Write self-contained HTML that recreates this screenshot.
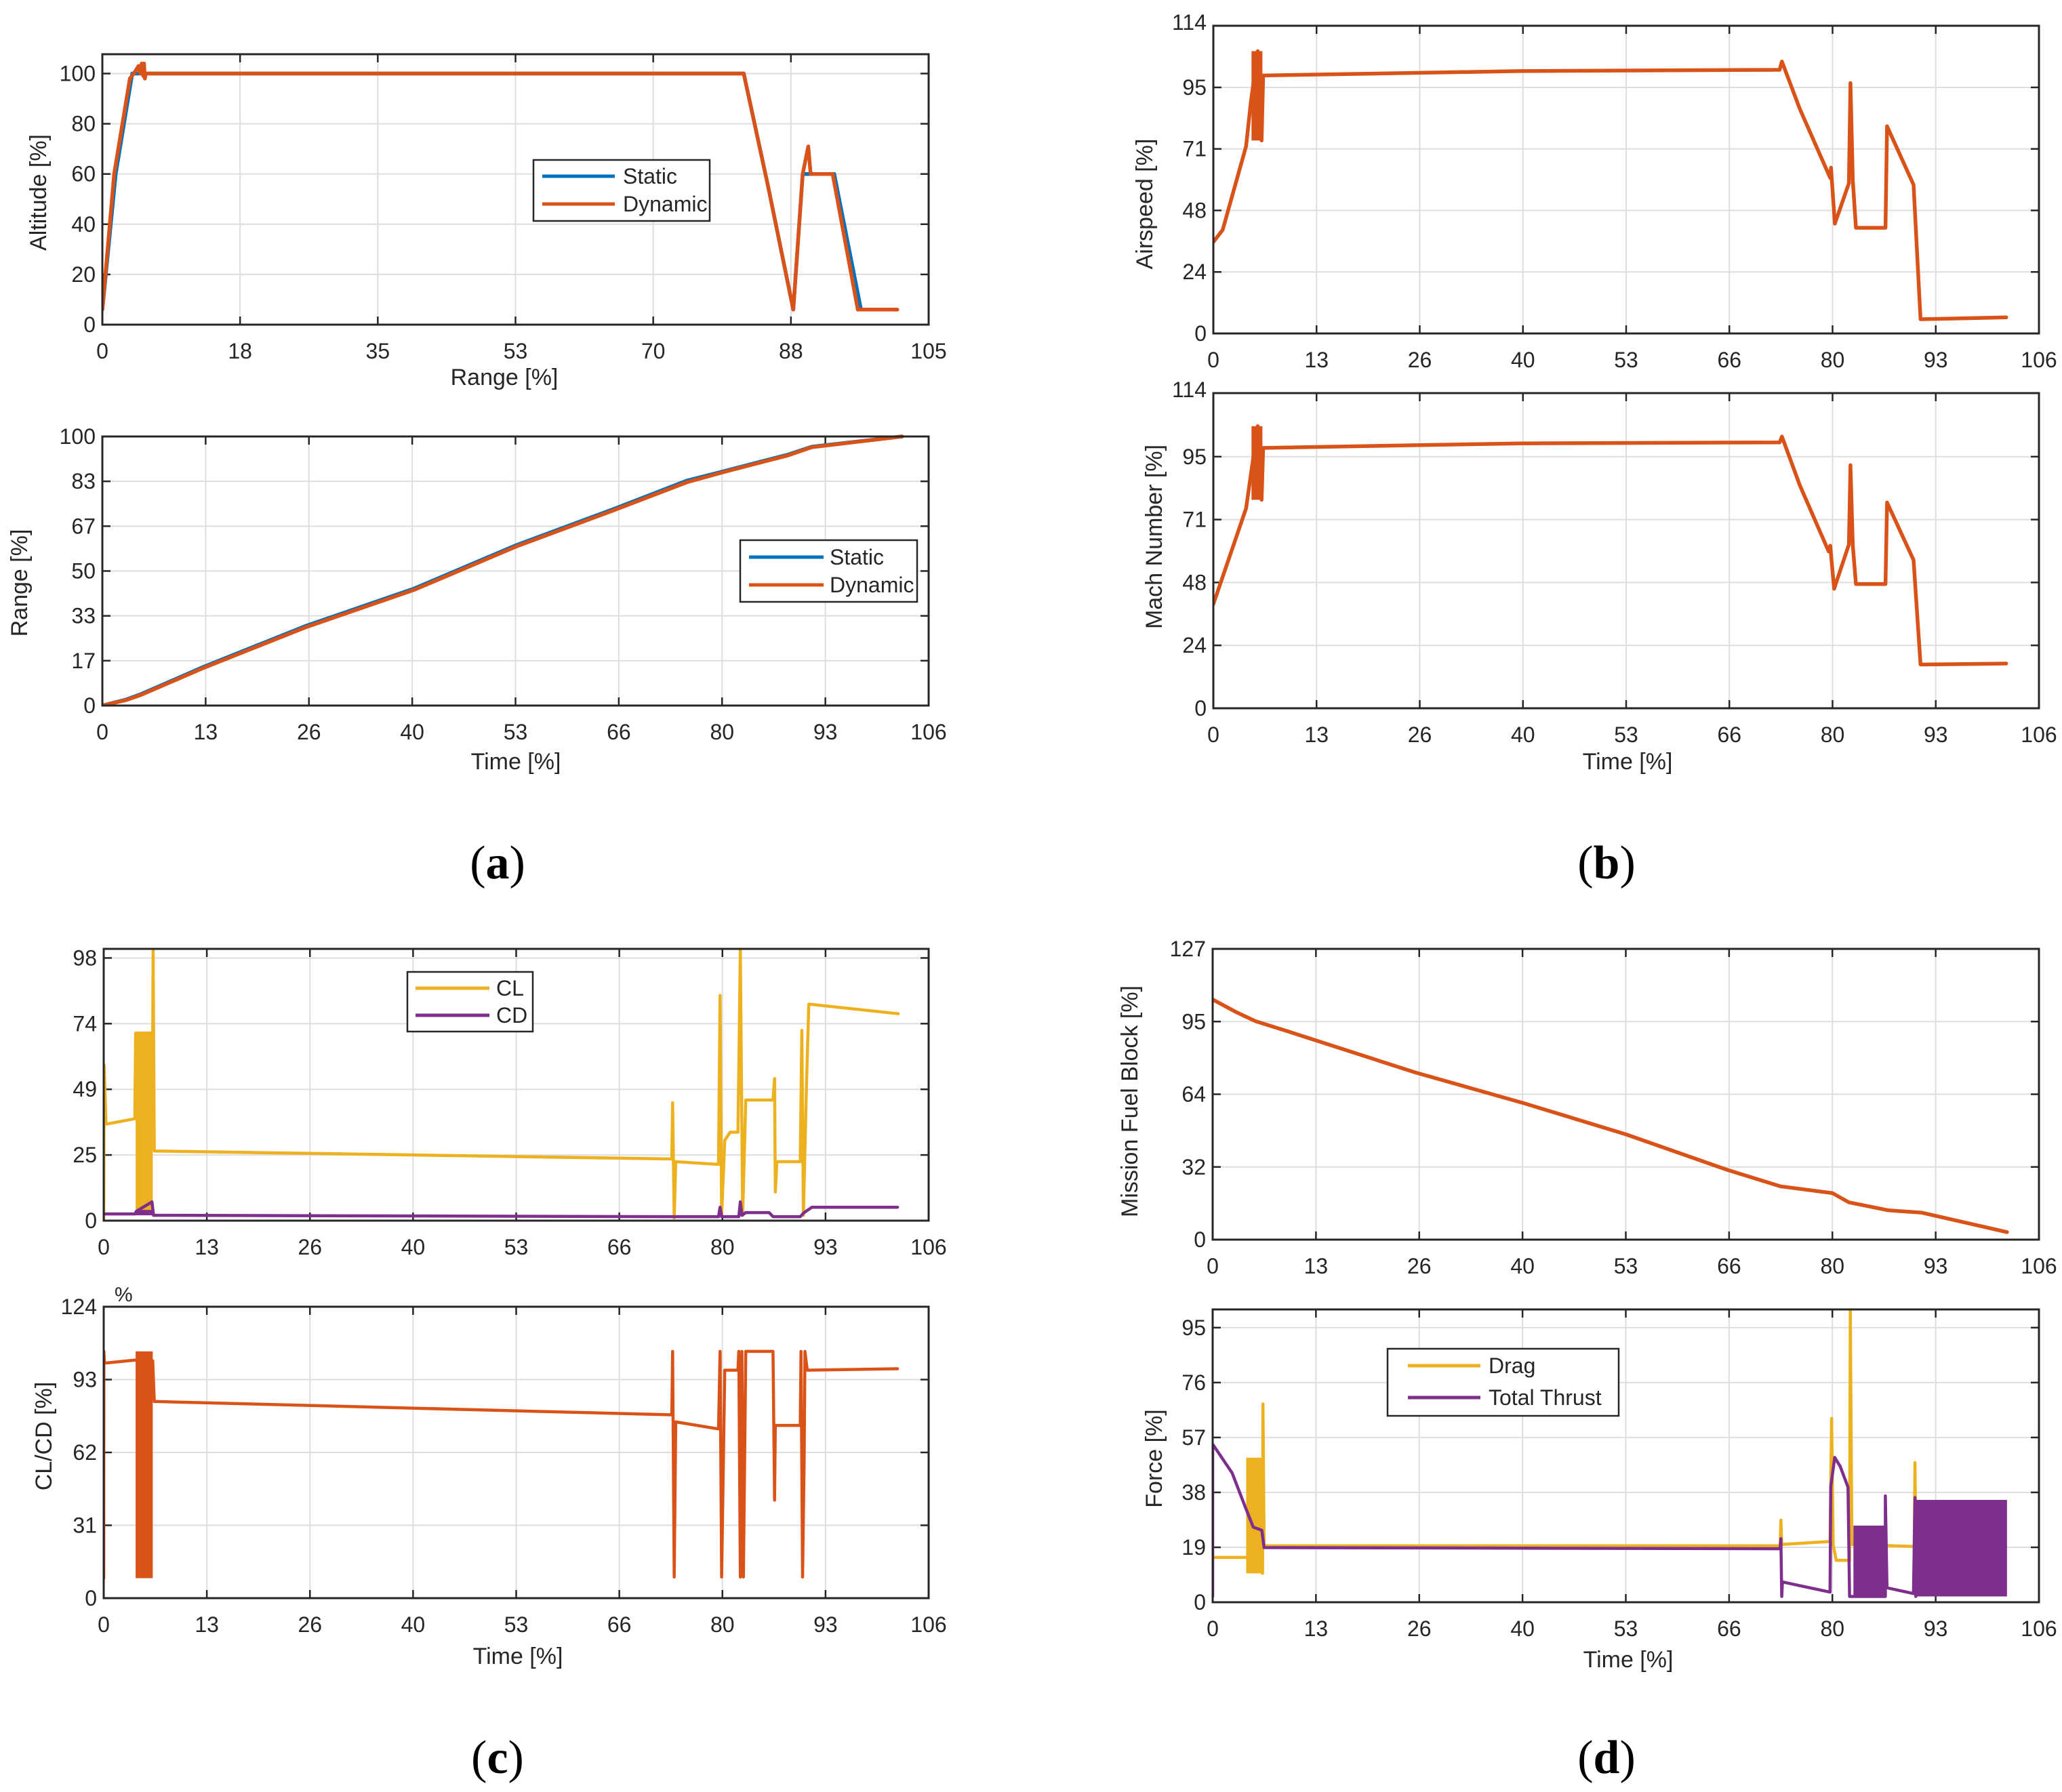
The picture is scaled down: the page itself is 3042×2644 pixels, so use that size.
<!DOCTYPE html>
<html><head><meta charset="utf-8"><style>
html,body{margin:0;padding:0;background:#fff}
svg{display:block}
text{font-family:"Liberation Sans",Arial,sans-serif;fill:#262626}
.cap{font-family:"Liberation Serif",serif;font-size:70px;fill:#000}
</style></head><body>
<svg id="fig" width="3042" height="2644" viewBox="0 0 3042 2644" xmlns="http://www.w3.org/2000/svg">
<rect width="3042" height="2644" fill="#fff"/>
<text class="cap" x="734" y="1296" text-anchor="middle">(<tspan font-weight="bold">a</tspan>)</text>
<text class="cap" x="2370" y="1296" text-anchor="middle">(<tspan font-weight="bold">b</tspan>)</text>
<text class="cap" x="734" y="2616" text-anchor="middle">(<tspan font-weight="bold">c</tspan>)</text>
<text class="cap" x="2370" y="2616" text-anchor="middle">(<tspan font-weight="bold">d</tspan>)</text>
</svg>
<script>
// ---- tick labels ----
const xTicksRange = ["0","18","35","53","70","88","105"];
const xTicksTime = ["0","13","26","40","53","66","80","93","106"];
const yTicksAlt = ["0","20","40","60","80","100"];
const yTicksRangeAx = ["0","17","33","50","67","83","100"];
const yTicksSpeed = ["0","24","48","71","95"];
const yTicksCL = ["0","25","49","74","98"];
const yTicksLD = ["0","31","62","93","124"];
const yTicksFuel = ["0","32","64","95","127"];
const yTicksForce = ["0","19","38","57","76","95"];

// ---- data (x in %, y in %) ----
const altStaticX = [0,1.7,3.8,4.5,81.5,84.6,87.8,89,93.0,96.4,101];
const altStaticY = [6,60,100,100,100,55,6,60,60,6,6];
const altDynX = [0,1.5,3.5,4.0,4.6,4.8,5.0,5.2,5.3,5.4,5.5,81.5,84.6,87.8,89,89.7,90,92.8,96.0,101];
const altDynY = [6,60,98,100,103,100,104,99,104,98,100,100,55,6,60,71,60,60,6,6];

const rngStaticX = [0,3,5,13,26,40,53,66,75,80,88,91,102.6];
const rngStaticY = [0,2.2,4.3,14.4,29.5,43.5,59.5,73.5,83.6,87.3,93.3,96.2,100];
const rngDynX = [0,3,5,13,26,40,53,66,75,80,88,91,102.6];
const rngDynY = [0,2,4,14,29,43,59,73,83,87,93,96,100];

const airX = [0,1.2,4.2,4.8,5.7,6.2,6.4,39.3,72.7,73,75.3,79.2,79.3,79.8,81.6,81.8,82.1,82.5,86.3,86.5,89.9,90.8,101.8];
const airY = [35.3,40,72.3,89,109,74.5,99.6,101.3,101.8,105,86.7,60,64,42.4,58,96.7,59,40.8,40.8,80,57.4,5.5,6.2];
const airOsc = [4.9,6.3,74.5,109];

const machX = [0,4.2,5.7,6.2,6.4,39.3,72.7,73,75.3,79,79.2,79.7,81.6,81.8,82.1,82.5,86.3,86.5,89.9,90.8,101.8];
const machY = [39.3,75.5,106.5,78.7,98.3,100,100.4,102.6,84.2,59.2,61.4,45.1,61.8,91.8,61.4,46.9,46.9,77.7,56,16.5,16.9];
const machOsc = [4.9,6.3,78.7,106.5];

const clX = [0,0.05,0.3,4.0,4.1,6.3,6.35,6.5,73,73.1,73.3,73.5,79,79.2,79.4,79.8,80.5,81.5,81.8,82.1,82.5,86,86.2,86.3,86.5,89.5,89.7,89.9,90.3,90.6,102.1];
const clY = [0,58,36,38,70,70,101,26,23,44,1,22,21,84,2,30,33,33,101,2,45,45,53,10.7,22,22,71,2,50,80.8,77.2];
const clOsc = [4.1,6.3,2,70];
const cdX = [0,4,4.2,6.2,6.4,73,79,79.2,79.4,81.6,81.8,82,82.5,85.5,86,89.5,90,91,102];
const cdY = [2.5,2.5,3.5,7,2,1.5,1.5,5,1.5,1.5,7,2,3,3,1.5,1.5,3,5,5];
const cdOsc = [4.1,6.3,2,4];

const ldX = [0,0.02,0.1,4,6.3,6.5,73,73.1,73.3,73.5,79,79.2,79.4,79.8,81.5,81.6,81.8,82.0,82.2,82.5,86,86.2,86.3,89.5,89.6,89.8,90,90.1,90.4,102];
const ldY = [8.5,105,100,101.3,101,83.7,78,105,9,75,72,105,9,97,97,105,9,105,9,105,105,41.7,73.5,73.5,105,9,58,105,97,97.6];
const ldOsc = [4.1,6.3,8.5,105];

const fuelX = [0,3,5.5,9.7,26,40,53,66,72.8,79.5,81.6,86.7,90.9,101.9];
const fuelY = [104.9,99.4,95.4,90.9,73,59.5,46,30.5,23.3,20.3,16.3,12.8,11.8,3.3];

const dragX = [0,4.3,6.4,6.45,6.6,72.8,72.9,73,79.2,79.4,79.6,80,81.7,81.8,82,90,90.1,90.2];
const dragY = [15.5,15.5,10,68.6,19.5,19.5,28.4,20,21,63.6,20,14.5,14.5,101,20,19.3,48.3,19];
const dragOsc = [4.3,6.4,10,50];
const thrustX = [0,0,2.5,4.2,5.2,6.3,6.6,72.8,72.9,73,73.1,79.2,79.3,79.8,80.5,81.5,81.7,82.0,82.2,86.3,86.3,86.5,89.9,90.1,90.2];
const thrustY = [2,54.7,44.7,32.8,26,24.9,18.9,18.5,22,2,7,3.5,40,50.1,47,39.8,2,2,2,2,36.8,5,3,36.2,2];
const thrustOsc1 = [82.2,86.3,2,26.5];
const thrustOsc2 = [90.2,101.9,2,35.4];

const BLUE="#0072BD", ORANGE="#D95319", YELLOW="#EDB120", PURPLE="#7E2F8E";
const svg=document.getElementById('fig');
const NS="http://www.w3.org/2000/svg";
function mk(tag,at,parent){const e=document.createElementNS(NS,tag);for(const k in at)e.setAttribute(k,at[k]);(parent||svg).appendChild(e);return e;}

function panel(p){
  const g=mk('g',{});
  
  
  const sx=v=>p.x0+(v/p.xmax)*(p.x1-p.x0);
  const sy=v=>p.y1-(v/p.ymax)*(p.y1-p.y0);
  const nx=p.xl.length-1;
  p.xl.forEach((lab,i)=>{
    const v=i*p.xmax/nx, X=sx(v);
    if(i>0&&i<nx){const gl=mk('line',{x1:X,x2:X,y1:p.y0,y2:p.y1,stroke:'#dedede','stroke-width':2},g);
      
      mk('line',{x1:X,x2:X,y1:p.y1,y2:p.y1-12,stroke:'#262626','stroke-width':2.5},g);
      mk('line',{x1:X,x2:X,y1:p.y0,y2:p.y0+12,stroke:'#262626','stroke-width':2.5},g);}
    const t=mk('text',{x:X,y:p.y1+50,'font-size':32,'text-anchor':'middle'},g);t.textContent=lab;
    
  });
  const ystep=p.ystep;
  p.yl.forEach((lab,i)=>{
    const v=i*ystep, Y=sy(v);
    if(i>0&&Y>p.y0+2){const gl=mk('line',{x1:p.x0,x2:p.x1,y1:Y,y2:Y,stroke:'#dedede','stroke-width':2},g);
      
      mk('line',{x1:p.x0,x2:p.x0+12,y1:Y,y2:Y,stroke:'#262626','stroke-width':2.5},g);
      mk('line',{x1:p.x1,x2:p.x1-12,y1:Y,y2:Y,stroke:'#262626','stroke-width':2.5},g);}
    const t=mk('text',{x:p.x0-10,y:Math.min(Y+11,p.y1+20),'font-size':32,'text-anchor':'end'},g);t.textContent=lab;
    
  });
  if(p.ytop){const t=mk('text',{x:p.x0-10,y:p.y0+6,'font-size':32,'text-anchor':'end'},g);t.textContent=p.ytop;
    }
  const clip='c'+p.name;
  const cp=mk('clipPath',{id:clip},g);mk('rect',{x:p.x0,y:p.y0-3,width:p.x1-p.x0,height:p.y1-p.y0+3},cp);
  const sg=mk('g',{'clip-path':'url(#'+clip+')'},g);
  p.series.forEach(s=>{
    (s.bands||[]).forEach(b=>{
      const r=mk('rect',{x:sx(b[0]),y:sy(b[3]),width:sx(b[1])-sx(b[0]),height:sy(b[2])-sy(b[3]),fill:s.color},sg);
      
    });
    const d=s.x.map((v,i)=>(i?'L':'M')+sx(v).toFixed(1)+','+sy(s.y[i]).toFixed(1)).join('');
    const pa=mk('path',{d:d,fill:'none',stroke:s.color,'stroke-width':s.w||5.5,'stroke-linejoin':'round','stroke-linecap':'round'},sg);
    
  });
  const bx=mk('rect',{x:p.x0,y:p.y0,width:p.x1-p.x0,height:p.y1-p.y0,fill:'none',stroke:'#262626','stroke-width':3},g);
  
  if(p.xlabel){const t=mk('text',{x:p.xlabel[1],y:p.xlabel[2],'font-size':34,'text-anchor':'middle'},g);t.textContent=p.xlabel[0];
    }
  if(p.ylabel){const t=mk('text',{x:0,y:0,'font-size':34,'text-anchor':'middle',transform:`translate(${p.ylabel[1]},${p.ylabel[2]}) rotate(-90)`},g);t.textContent=p.ylabel[0];
    }
  if(p.legend){const L=p.legend;
    const lg=mk('g',{},g);
    mk('rect',{x:L.x0,y:L.y0,width:L.x1-L.x0,height:L.y1-L.y0,fill:'#fff',stroke:'#262626','stroke-width':2.5},lg);
    L.items.forEach(it=>{
      const e=mk('g',{},lg);
      mk('line',{x1:L.lx0,x2:L.lx1,y1:it[2],y2:it[2],stroke:it[1],'stroke-width':5},e);
      const t=mk('text',{x:L.tx,y:it[2]+11,'font-size':32},e);t.textContent=it[0];
    });
  }
}
const T=106;
panel({name:'altitude-vs-range',x0:151,x1:1370,y0:80,y1:479,xmax:105,ymax:107.7,ystep:20,xl:xTicksRange,yl:yTicksAlt,
  xlabel:['Range [%]',744,568],ylabel:['Altitude [%]',68,284],
  series:[{id:'static',color:BLUE,x:altStaticX,y:altStaticY},{id:'dynamic',color:ORANGE,x:altDynX,y:altDynY}],
  legend:{x0:787,x1:1047,y0:236,y1:326,lx0:800,lx1:907,tx:919,items:[['Static',BLUE,260],['Dynamic',ORANGE,301]]}});
panel({name:'range-vs-time',x0:151,x1:1370,y0:644,y1:1041,xmax:T,ymax:100,ystep:100/6,xl:xTicksTime,yl:yTicksRangeAx,
  xlabel:['Time [%]',761,1135],ylabel:['Range [%]',40,860],
  series:[{id:'static',color:BLUE,x:rngStaticX,y:rngStaticY},{id:'dynamic',color:ORANGE,x:rngDynX,y:rngDynY}],
  legend:{x0:1092,x1:1353,y0:797,y1:888,lx0:1105,lx1:1215,tx:1224,items:[['Static',BLUE,822],['Dynamic',ORANGE,863]]}});
panel({name:'airspeed-vs-time',x0:1790,x1:3008,y0:38,y1:492,xmax:T,ymax:118.8,ystep:23.75,xl:xTicksTime,yl:yTicksSpeed,ytop:'114',
  ylabel:['Airspeed [%]',1700,301],
  series:[{id:'airspeed',color:ORANGE,x:airX,y:airY,bands:[airOsc]}]});
panel({name:'mach-vs-time',x0:1790,x1:3008,y0:580,y1:1045,xmax:T,ymax:119,ystep:23.75,xl:xTicksTime,yl:yTicksSpeed,ytop:'114',
  xlabel:['Time [%]',2401,1135],ylabel:['Mach Number [%]',1714,792],
  series:[{id:'mach',color:ORANGE,x:machX,y:machY,bands:[machOsc]}]});
panel({name:'cl-cd-vs-time',x0:153,x1:1370,y0:1400,y1:1801,xmax:T,ymax:101.4,ystep:24.5,xl:xTicksTime,yl:yTicksCL,
  series:[{id:'cl',color:YELLOW,x:clX,y:clY,bands:[clOsc],w:4.5},{id:'cd',color:PURPLE,x:cdX,y:cdY,bands:[cdOsc],w:4.5}],
  legend:{x0:601,x1:786,y0:1434,y1:1522,lx0:613,lx1:722,tx:732,items:[['CL',YELLOW,1458],['CD',PURPLE,1498]]}});
panel({name:'lift-drag-ratio-vs-time',x0:153,x1:1370,y0:1928,y1:2358,xmax:T,ymax:124,ystep:31,xl:xTicksTime,yl:yTicksLD,
  xlabel:['Time [%]',764,2455],ylabel:['CL/CD  [%]',76,2119],
  series:[{id:'cl-cd-ratio',color:ORANGE,x:ldX,y:ldY,bands:[ldOsc],w:4.5}]});
panel({name:'fuel-vs-time',x0:1789,x1:3008,y0:1400,y1:1829,xmax:T,ymax:127,ystep:31.75,xl:xTicksTime,yl:yTicksFuel,
  ylabel:['Mission Fuel Block [%]',1678,1625],
  series:[{id:'fuel',color:ORANGE,x:fuelX,y:fuelY}]});
panel({name:'force-vs-time',x0:1789,x1:3008,y0:1932,y1:2364,xmax:T,ymax:101.3,ystep:19,xl:xTicksTime,yl:yTicksForce,
  xlabel:['Time [%]',2402,2460],ylabel:['Force [%]',1714,2152],
  series:[{id:'drag',color:YELLOW,x:dragX,y:dragY,bands:[dragOsc],w:4.5},{id:'thrust',color:PURPLE,x:thrustX,y:thrustY,bands:[thrustOsc1,thrustOsc2],w:4.5}],
  legend:{x0:2047,x1:2388,y0:1990,y1:2089,lx0:2077,lx1:2184,tx:2196,items:[['Drag',YELLOW,2015],['Total Thrust',PURPLE,2062]]}});
const pct=mk('text',{x:169,y:1920,'font-size':30});pct.textContent='%';


</script>
</body></html>
